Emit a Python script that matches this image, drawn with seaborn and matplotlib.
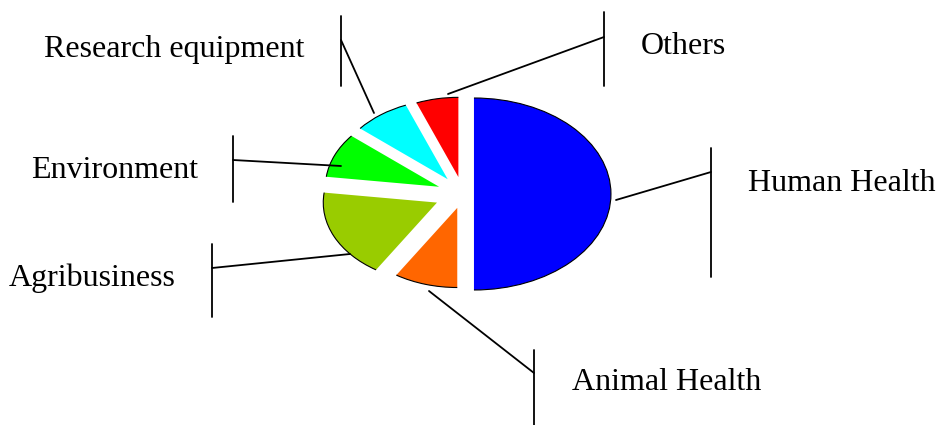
import matplotlib
matplotlib.use("Agg")
import matplotlib.pyplot as plt
from matplotlib.patches import Arc
import seaborn as sns

# slice data, clockwise from 12 o'clock
sectors = ["Human Health", "Animal Health", "Agribusiness", "Environment",
           "Research equipment", "Others"]
shares = [50, 9, 18, 9, 8, 6]
colors = ["#0000FF", "#FF6600", "#99CC00", "#00FF00", "#00FFFF", "#FF0000"]

sns.set_theme(style="white")
plt.rcParams["font.family"] = ["Liberation Serif", "DejaVu Serif"]

W, H = 937, 425
fig = plt.figure(figsize=(W / 100, H / 100), dpi=100)
ax = fig.add_axes([0, 0, 1, 1])

# pie is squashed into an ellipse: 137 px per unit across, 96 px per unit down
cx, cy, rx, ry = 463, 194, 137, 96
explode = [0.08, 0.15, 0.21, 0.19, 0.19, 0.18]
wedges, _ = ax.pie(shares, colors=colors, startangle=90, counterclock=False,
                   explode=explode, wedgeprops=dict(linewidth=0))
for w in wedges[1:]:
    w.set_radius(0.83)
for w in wedges:
    ax.add_patch(Arc(w.center, 2 * w.r, 2 * w.r, theta1=w.theta1, theta2=w.theta2,
                     color="black", lw=0.8))
ax.set_aspect("auto")
ax.set_xlim(-cx / rx, (W - cx) / rx)
ax.set_ylim((cy - H) / ry, cy / ry)
ax.axis("off")


def px(x, y):
    return x / W, 1 - y / H


# leader line (start, bar point), bar span, text anchor  -- layout in pixels
layout = {
    "Human Health": ((616, 200), (711, 172), (148, 277), (748, 183, "left")),
    "Animal Health": ((429, 291), (534, 373), (350, 425), (572, 383, "left")),
    "Agribusiness": ((350, 254), (212, 268), (244, 317), (9, 278, "left")),
    "Environment": ((341, 166), (233, 160), (136, 202), (31, 170, "left")),
    "Research equipment": ((374, 113), (341, 40), (16, 86), (305, 50, "right")),
    "Others": ((448, 94), (604, 37), (12, 86), (641, 46, "left")),
}

for name in sectors:
    (x0, y0), (x1, y1), (b0, b1), (tx, ty, ha) = layout[name]
    ax.plot([px(x0, y0)[0], px(x1, y1)[0]], [px(x0, y0)[1], px(x1, y1)[1]],
            color="black", lw=1.3, transform=fig.transFigure, clip_on=False)
    ax.plot([px(x1, b0)[0], px(x1, b1)[0]], [px(x1, b0)[1], px(x1, b1)[1]],
            color="black", lw=1.3, transform=fig.transFigure, clip_on=False)
    fig.text(*px(tx, ty), name, ha=ha, va="center", fontsize=23, color="black")

fig.savefig("out.png", dpi=100)
